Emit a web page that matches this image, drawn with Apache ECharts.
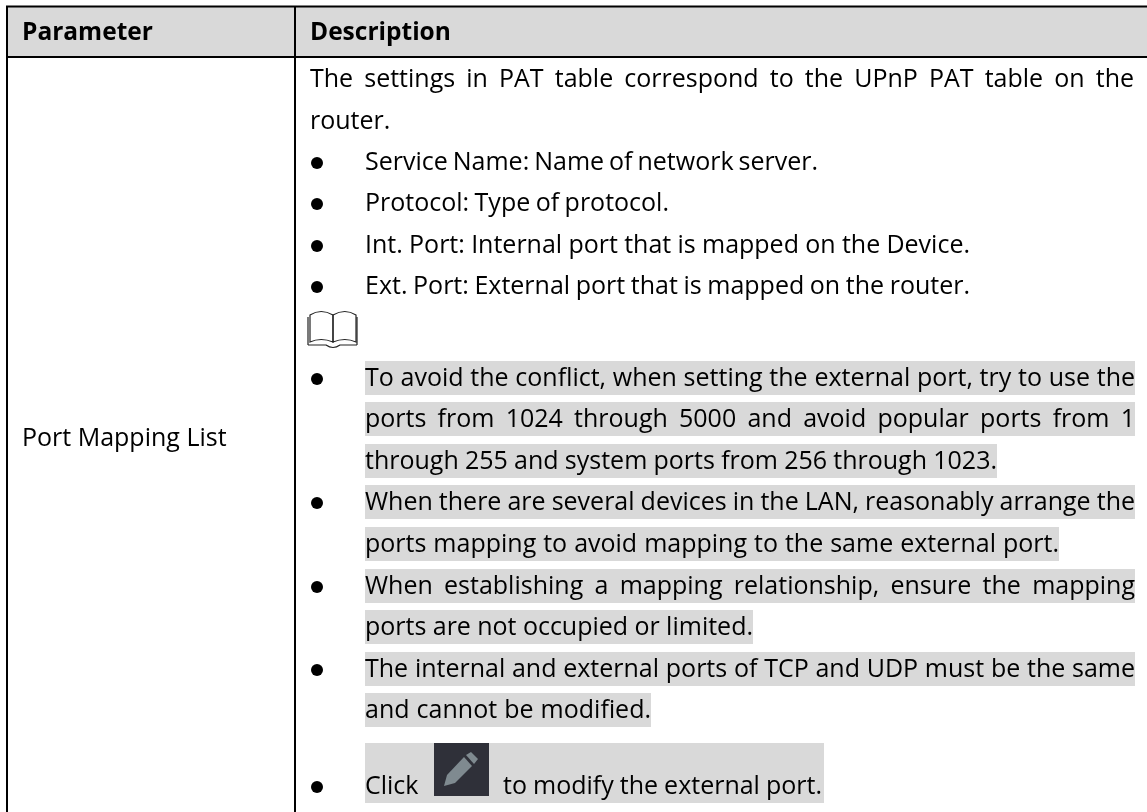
<!DOCTYPE html>
<html>
<head>
<meta charset="utf-8">
<style>html,body{margin:0;padding:0;background:#fff}#main{width:1147px;height:812px}</style>
<script src="https://cdn.jsdelivr.net/npm/echarts@6/dist/echarts.min.js"></script>
</head>
<body>
<div id="main"></div>
<script>
var headers = ['Parameter', 'Description'];
var paramName = 'Port Mapping List';
var descLines = [
	'The settings in PAT table correspond to the UPnP PAT table on the',
	'router.',
	'Service Name: Name of network server.',
	'Protocol: Type of protocol.',
	'Int. Port: Internal port that is mapped on the Device.',
	'Ext. Port: External port that is mapped on the router.',
	'',
	'To avoid the conflict, when setting the external port, try to use the',
	'ports from 1024 through 5000 and avoid popular ports from 1',
	'through 255 and system ports from 256 through 1023.',
	'When there are several devices in the LAN, reasonably arrange the',
	'ports mapping to avoid mapping to the same external port.',
	'When establishing a mapping relationship, ensure the mapping',
	'ports are not occupied or limited.',
	'The internal and external ports of TCP and UDP must be the same',
	'and cannot be modified.',
	'Click'
];
var clickTail = 'to modify the external port.';
var bulletLines = [2, 3, 4, 5, 7, 10, 12, 14, 16];
var shadedLines = [7, 8, 9, 10, 11, 12, 13, 14, 15];
// layout: baseline of each line and right end of its ink
var lineBase = [88, 130, 171, 212, 254, 295, 0, 387, 428, 470, 511, 553, 595, 636, 678, 719, 795];
var lineEnd = [1134, 383, 818, 669, 970, 970, 0, 1135, 1135, 997, 1135, 1059, 1135, 753, 1135, 651, 0];
var FONT = '"Open Sans"';
var SIZE = 25;

var ctx = document.createElement('canvas').getContext('2d');
function textWidth(s, font) { ctx.font = font; return ctx.measureText(s).width; }

function wordsTo(x0, x1, base, str) {
	var font = SIZE + 'px ' + FONT;
	var words = str.split(' ');
	var total = 0, out = [];
	for (var i = 0; i < words.length; i++) total += textWidth(words[i], font);
	var gap = words.length > 1 ? (x1 - x0 - total) / (words.length - 1) : 0;
	var x = x0;
	for (var k = 0; k < words.length; k++) {
		out.push({ type: 'text', z2: 5, style: { x: x, y: base - SIZE * 0.33, text: words[k], fill: '#000', font: font, verticalAlign: 'middle' } });
		x += textWidth(words[k], font) + gap;
	}
	return out;
}

function rect(x, y, w, h, fill) {
	return { type: 'rect', shape: { x: x, y: y, width: w, height: h }, style: { fill: fill } };
}

function renderLine(params, api) {
	var i = api.value(0);
	var kids = [];
	var left = i < 2 ? 310 : 365;
	var base = lineBase[i];
	if (i == 6) return { type: 'group', children: bookIcon() };
	if (i == 16) {
		kids.push(rect(365, 743, 459, 60, '#d9d9d9'));
		kids.push(rect(434, 743, 55, 53, '#2f3039'));
		kids.push({ type: 'polygon', shape: { points: [[444, 786], [447, 775], [464, 757], [472, 766], [455, 783]] }, style: { fill: '#7f8a90' } });
		kids.push({ type: 'polygon', shape: { points: [[466, 755], [471, 752], [478, 759], [474, 764]] }, style: { fill: '#7f8a90' } });
		kids = kids.concat(wordsTo(365, 419, base, 'Click'));
		kids = kids.concat(wordsTo(503, 822, base, clickTail));
	} else {
		if (shadedLines.indexOf(i) >= 0) kids.push(rect(365, base - 26, lineEnd[i] - 365, 34, '#d9d9d9'));
		kids = kids.concat(wordsTo(left, lineEnd[i], base, descLines[i]));
	}
	if (bulletLines.indexOf(i) >= 0) {
		kids.push({ type: 'circle', shape: { cx: 317, cy: base - 8, r: 6 }, style: { fill: '#000' } });
	}
	return { type: 'group', children: kids };
}

function bookIcon() {
	var st = { fill: 'none', stroke: '#222', lineWidth: 1.2 };
	return [
		{ type: 'path', shape: { pathData: 'M310 315 Q321 308 333 315 L333 342 Q321 337 310 342 Z' }, style: st },
		{ type: 'path', shape: { pathData: 'M333 315 Q345 308 356 315 L356 342 Q345 337 333 342 Z' }, style: st },
		{ type: 'path', shape: { pathData: 'M308 345 L326 345 Q333 350 340 345 L357 345 M308 317 L308 345 M357 317 L357 345' }, style: st }
	];
}

var lineData = descLines.map(function (t, i) { return [i]; });

var chart = echarts.init(document.getElementById('main'), null, { renderer: 'canvas' });
chart.setOption({
	animation: false,
	backgroundColor: '#fff',
	graphic: [
		{ type: 'rect', shape: { x: 7, y: 7, width: 1140, height: 50 }, style: { fill: '#d9d9d9' }, z: 0 },
		{ type: 'text', z: 3, style: { x: 22, y: 33, text: headers[0], fill: '#000', font: 'bold 24.5px ' + FONT, verticalAlign: 'middle' } },
		{ type: 'text', z: 3, style: { x: 310, y: 33, text: headers[1], fill: '#000', font: 'bold 24.5px ' + FONT, verticalAlign: 'middle' } },
		{ type: 'text', z: 3, style: { x: 22, y: 439, text: paramName, fill: '#000', font: SIZE + 'px ' + FONT, verticalAlign: 'middle' } },
		{ type: 'line', z: 4, shape: { x1: 6, y1: 6.5, x2: 1147, y2: 6.5 }, style: { stroke: '#000', lineWidth: 2 } },
		{ type: 'line', z: 4, shape: { x1: 6, y1: 57, x2: 1147, y2: 57 }, style: { stroke: '#000', lineWidth: 2 } },
		{ type: 'line', z: 4, shape: { x1: 7, y1: 6, x2: 7, y2: 812 }, style: { stroke: '#000', lineWidth: 2 } },
		{ type: 'line', z: 4, shape: { x1: 295, y1: 6, x2: 295, y2: 812 }, style: { stroke: '#000', lineWidth: 2 } }
	],
	xAxis: { type: 'value', min: 0, max: 1147, show: false },
	yAxis: { type: 'value', min: 0, max: 812, inverse: true, show: false },
	grid: { left: 0, right: 0, top: 0, bottom: 0 },
	series: [{ type: 'custom', silent: true, clip: false, data: lineData, renderItem: renderLine, encode: { x: 0 } }]
});
</script>
</body>
</html>
